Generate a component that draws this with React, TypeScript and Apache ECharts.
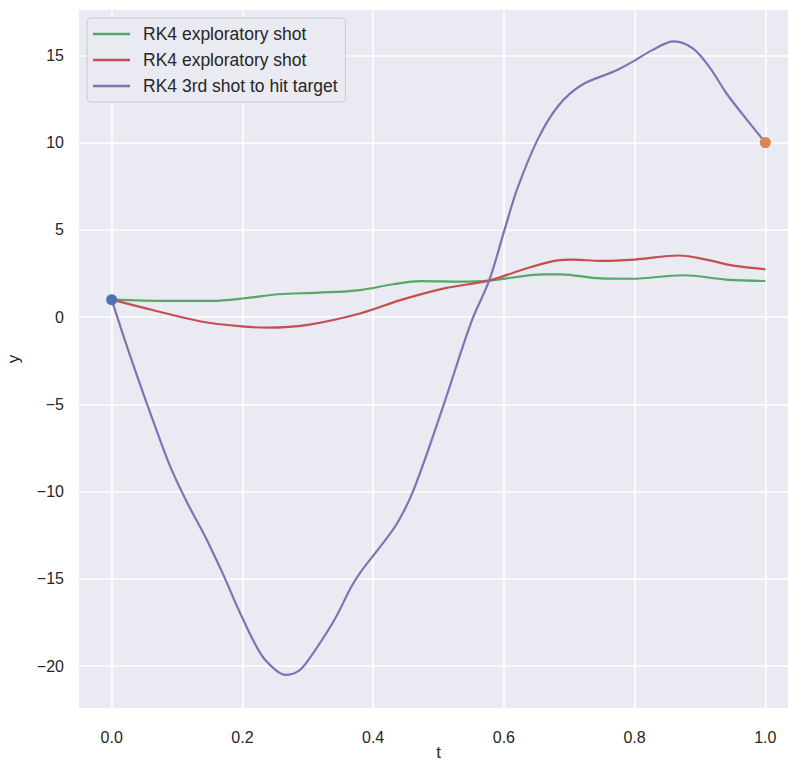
import React, { useEffect, useRef } from "react";
import * as echarts from "echarts";

const xTicks = [0, 0.2, 0.4, 0.6, 0.8, 1.0];
const yTicks = [-20, -15, -10, -5, 0, 5, 10, 15];

const tGreen = [0, 0.087, 0.153, 0.204, 0.255, 0.316, 0.38, 0.433, 0.473, 0.534, 0.577, 0.662, 0.687, 0.748, 0.795, 0.875, 0.94, 1.0];
const yGreen = [1, 0.93, 0.93, 1.08, 1.31, 1.4, 1.55, 1.9, 2.06, 2.03, 2.09, 2.45, 2.45, 2.22, 2.2, 2.4, 2.15, 2.07];

const tRed = [0, 0.061, 0.137, 0.198, 0.239, 0.3, 0.38, 0.443, 0.509, 0.577, 0.626, 0.677, 0.708, 0.748, 0.8, 0.868, 0.915, 0.951, 1.0];
const yRed = [1, 0.42, -0.25, -0.53, -0.6, -0.44, 0.21, 0.99, 1.65, 2.09, 2.69, 3.22, 3.3, 3.22, 3.3, 3.53, 3.25, 2.95, 2.75];

const tPurple = [0, 0.02, 0.041, 0.063, 0.09, 0.115, 0.142, 0.17, 0.197, 0.228, 0.25, 0.266, 0.285, 0.3, 0.34, 0.366, 0.381, 0.41, 0.437, 0.463, 0.509, 0.55, 0.578, 0.601, 0.621, 0.652, 0.683, 0.719, 0.77, 0.8, 0.827, 0.86, 0.889, 0.915, 0.941, 0.972, 1.0];
const yPurple = [1, -1.3, -3.6, -5.9, -8.6, -10.6, -12.5, -14.7, -17.0, -19.3, -20.2, -20.5, -20.3, -19.7, -17.4, -15.5, -14.6, -13.2, -11.8, -9.8, -4.9, -0.3, 2.15, 5.0, 7.4, 10.2, 12.1, 13.3, 14.1, 14.7, 15.3, 15.8, 15.4, 14.3, 12.8, 11.3, 10.0];

const startPoint = [0, 1];
const targetPoint = [1, 10];

const seriesNames = ["RK4 exploratory shot", "RK4 exploratory shot ", "RK4 3rd shot to hit target"];

const FONT = "Liberation Sans, Arial, sans-serif";

function zip(a: number[], b: number[]) {
  return a.map((v, i) => [v, b[i]]);
}

export default function App() {
  const ref = useRef<HTMLDivElement>(null);
  useEffect(() => {
    if (!ref.current) return;
    const chart = echarts.init(ref.current, null, { renderer: "svg" });
    const lineCommon = {
      type: "line" as const,
      smooth: 0.35,
      showSymbol: false,
      symbol: "none",
      z: 2,
    };
    chart.setOption({
      animation: false,
      backgroundColor: "#ffffff",
      textStyle: { fontFamily: FONT },
      grid: {
        left: 79,
        top: 10,
        width: 719,
        height: 698,
        show: true,
        backgroundColor: "#EAEAF2",
        borderWidth: 0,
        outerBoundsMode: "none",
        containLabel: false,
      },
      legend: {
        orient: "vertical",
        left: 87,
        top: 18,
        data: seriesNames.map((n) => ({ name: n })),
        formatter: (n: string) => n.trim(),
        icon: "rect",
        itemWidth: 37,
        itemHeight: 2.5,
        itemGap: 8,
        padding: [7, 8, 7, 6],
        backgroundColor: "#EAEAF2",
        borderColor: "#cccccc",
        borderWidth: 1,
        borderRadius: 4,
        z: 10,
        textStyle: { fontFamily: FONT, fontSize: 17.5, color: "#262626", padding: [0, 0, 0, 8] },
      },
      xAxis: {
        type: "value",
        min: -0.05,
        max: 1.05,
        name: "t",
        nameLocation: "middle",
        nameGap: 36,
        nameMoveOverlap: false,
        nameTextStyle: { fontFamily: FONT, fontSize: 17, color: "#262626" },
        axisLine: { show: false },
        axisTick: { show: false },
        splitLine: { show: false },
        axisLabel: {
          customValues: xTicks,
          formatter: (v: number) => v.toFixed(1),
          fontFamily: FONT,
          fontSize: 16,
          color: "#262626",
          margin: 21,
        },
      },
      yAxis: {
        type: "value",
        min: -22.4,
        max: 17.6,
        name: "y",
        nameLocation: "middle",
        nameGap: 57,
        nameMoveOverlap: false,
        nameTextStyle: { fontFamily: FONT, fontSize: 17, color: "#262626" },
        axisLine: { show: false },
        axisTick: { show: false },
        splitLine: { show: false },
        axisLabel: {
          customValues: yTicks,
          formatter: (v: number) => (v < 0 ? "\u2212" + Math.abs(v) : String(v)),
          fontFamily: FONT,
          fontSize: 16,
          color: "#262626",
          margin: 15,
        },
      },
      series: [
        {
          type: "line",
          name: "gridlines",
          data: [],
          z: 1,
          silent: true,
          markLine: {
            silent: true,
            z: 1,
            symbol: "none",
            animation: false,
            label: { show: false },
            lineStyle: { color: "#ffffff", width: 1.6, type: "solid" },
            data: [
              ...xTicks.map((v) => ({ xAxis: v })),
              ...yTicks.map((v) => ({ yAxis: v })),
            ],
          },
        },
        {
          ...lineCommon,
          name: seriesNames[0],
          data: zip(tGreen, yGreen),
          lineStyle: { color: "#55A868", width: 2.2 },
          itemStyle: { color: "#55A868" },
        },
        {
          ...lineCommon,
          name: seriesNames[1],
          data: zip(tRed, yRed),
          lineStyle: { color: "#C44E52", width: 2.2 },
          itemStyle: { color: "#C44E52" },
        },
        {
          ...lineCommon,
          name: seriesNames[2],
          data: zip(tPurple, yPurple),
          lineStyle: { color: "#8172B2", width: 2.2 },
          itemStyle: { color: "#8172B2" },
        },
        {
          type: "scatter",
          name: "start",
          data: [startPoint],
          symbolSize: 11,
          itemStyle: { color: "#4C72B0", opacity: 1 },
          z: 3,
        },
        {
          type: "scatter",
          name: "target",
          data: [targetPoint],
          symbolSize: 11,
          itemStyle: { color: "#DD8452", opacity: 1 },
          z: 3,
        },
      ],
    });
    return () => chart.dispose();
  }, []);
  return (
    <div
      ref={ref}
      style={{ position: "absolute", left: 0, top: 0, width: 788, height: 761 }}
    />
  );
}
